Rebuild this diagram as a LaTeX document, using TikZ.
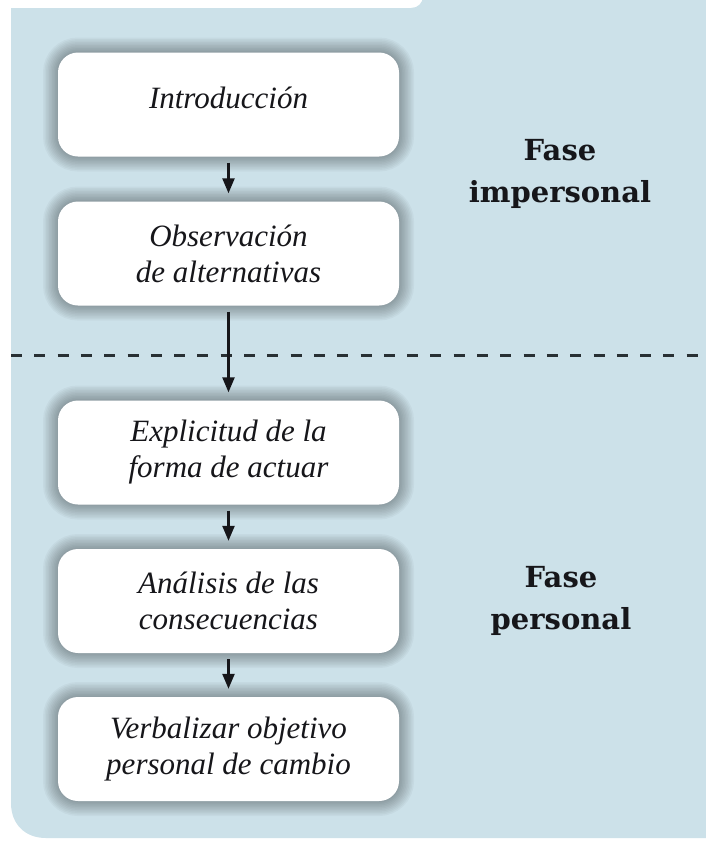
\documentclass[tikz,border=0pt]{standalone}
\usepackage{fontspec}
\setmainfont{Liberation Serif}
\newfontfamily\phasefont{DejaVu Serif}
\usetikzlibrary{arrows.meta}
\definecolor{bgblue}{RGB}{204,225,233}
\definecolor{ink}{RGB}{22,22,26}
\definecolor{dashink}{RGB}{40,48,52}
\begin{document}
\begin{tikzpicture}[x=1pt,y=-1pt,
  sh/.style={preaction={draw=black, opacity=0.032, line width=#1}},
  stepbox/.style={fill=white, rounded corners=20pt, minimum width=341pt,
    minimum height=104pt, inner sep=0pt, align=center, text=ink,
    font=\itshape\fontsize{31}{36}\selectfont,
    sh=30pt, sh=27pt, sh=24pt, sh=21pt, sh=18pt, sh=15pt, sh=12pt,
    sh=9pt, sh=6pt, sh=3pt},
  phase/.style={align=center, text=ink, inner sep=0pt,
    font=\phasefont\bfseries\fontsize{29}{42}\selectfont},
  flow/.style={draw=ink, line width=2.4pt, shorten <=6pt, shorten >=8pt,
    -{Triangle[length=15pt,width=12pt]}},
  dashline/.style={draw=dashink, line width=3pt, dash pattern=on 11pt off 12.3pt}]
\useasboundingbox (0,0) rectangle (705,841);
\fill[white] (0,0) rectangle (705,841);
% background panel
\fill[bgblue] (11,8) -- (411,8) .. controls (418,8) and (423,3) .. (423,-4)
  -- (710,-4) -- (710,838) -- (46,838) .. controls (25,838) and (11,824) .. (11,803) -- cycle;
% dashed separator
\coordinate (d1) at (11,355);
\coordinate (d2) at (710,355);
\draw[dashline] (d1) -- (d2);
% boxes
\node[stepbox] (b1) at (228.5,104.5) {\raisebox{7pt}[\height][\depth]{Introducción}};
\node[stepbox] (b2) at (228.5,253.5) {Observación\\de alternativas};
\node[stepbox] (b3) at (228.5,452.5) {Explicitud de la\\forma de actuar};
\node[stepbox] (b4) at (228.5,601) {Análisis de las\\consecuencias};
\node[stepbox] (b5) at (228.5,749) {Verbalizar objetivo\\personal de cambio};
% arrows
\draw[flow] (b1.south) -- (b2.north);
\draw[flow] (b2.south) -- (b3.north);
\draw[flow] (b3.south) -- (b4.north);
\draw[flow] (b4.south) -- (b5.north);
% phase labels
\node[phase] (p1) at (560,174) {Fase\\impersonal};
\node[phase] (p2) at (561,601) {Fase\\personal};
\end{tikzpicture}
\end{document}
